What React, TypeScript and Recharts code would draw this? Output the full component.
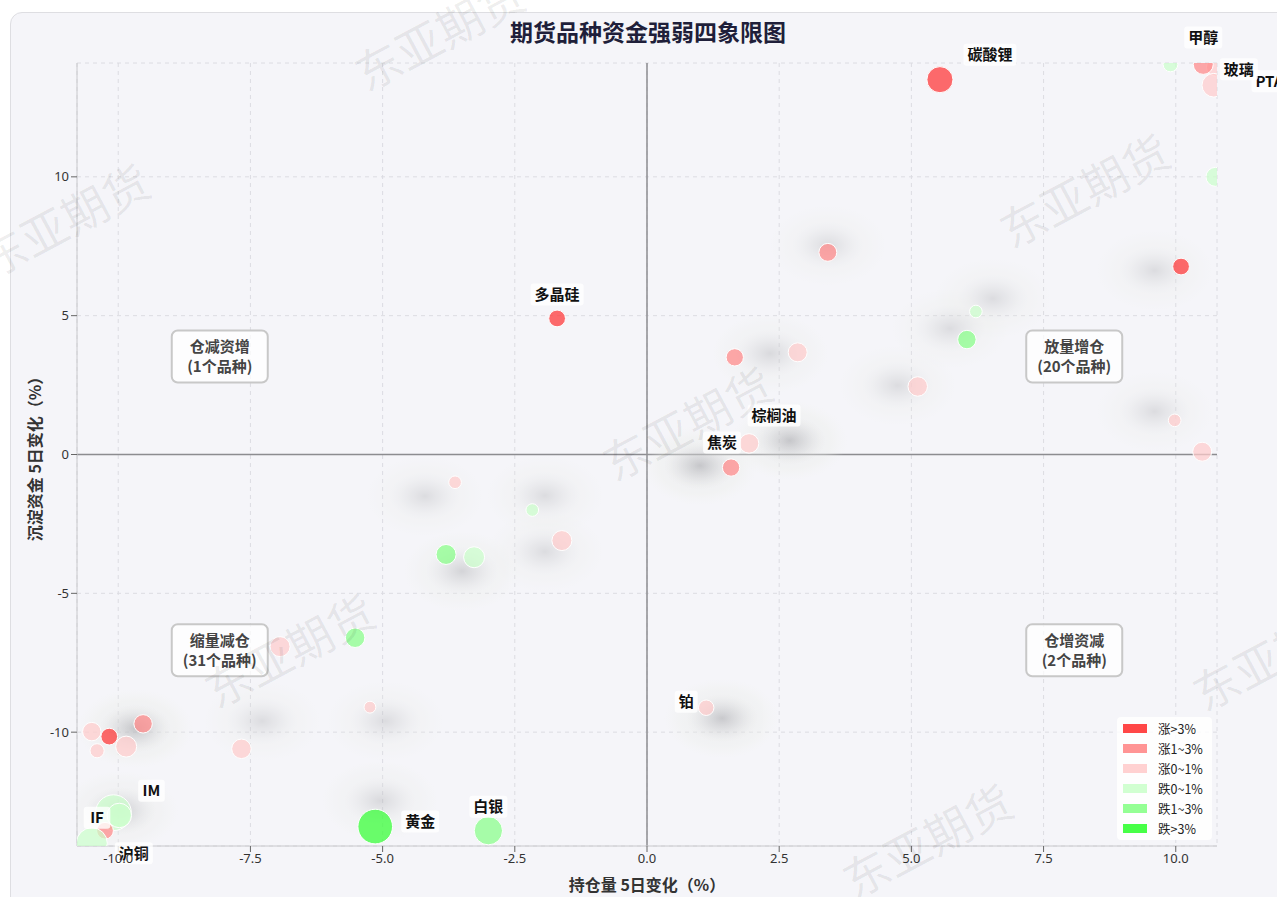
import React from 'react'
import { ScatterChart, Scatter, XAxis, YAxis, ZAxis, CartesianGrid, ReferenceLine, Cell } from 'recharts'

// 品种：持仓量5日变化(%)、沉淀资金5日变化(%)、涨跌幅(%)、成交额权重
const names = [
  '碳酸锂', '', 'PTA', '甲醇', '玻璃', '', '', '', '多晶硅', '', '', '', '', '', '', '',
  '棕榈油', '焦炭', '', '', '', '', '', '', '', '铂', '', '', '', '', '', '', '',
  'IM', '', 'IF', '沪铜', '黄金', '白银',
]
const oiChange = [
  5.54, 9.9, 10.75, 10.52, 10.72, 10.75, 3.42, 10.1, -1.7, 6.22, 6.05, 1.66, 2.85, 5.12, 9.98, 10.5,
  1.93, 1.59, -3.63, -2.17, -1.61, -3.8, -3.27, -6.94, -5.52, 1.12, -9.53, -10.17, -10.5, -9.85, -10.4, -7.67, -5.24,
  -10.09, -9.98, -10.25, -10.5, -5.14, -3.0,
]
const fundChange = [
  13.5, 14.05, 13.95, 14.05, 13.3, 10.0, 7.28, 6.77, 4.9, 5.15, 4.14, 3.5, 3.68, 2.45, 1.23, 0.1,
  0.4, -0.47, -1.0, -2.0, -3.1, -3.6, -3.7, -6.92, -6.6, -9.12, -9.7, -10.16, -9.98, -10.52, -10.67, -10.6, -9.1,
  -12.9, -13.0, -13.55, -14.0, -13.4, -13.55,
]
const priceChange = [
  3.5, -0.5, 0.8, 2.0, 0.6, -0.5, 2.0, 3.3, 3.2, -0.4, -1.2, 1.2, 0.7, 0.2, 0.5, 0.5,
  0.8, 1.5, 0.4, -0.3, 0.6, -1.1, -0.9, 0.6, -1.3, 0.1, 1.8, 3.4, 0.1, 0.5, 0.4, 0.1, 0.05,
  -0.3, -0.7, 2.5, -0.6, -3.2, -1.1,
]
const turnover = [
  170, 55, 80, 100, 140, 90, 80, 70, 70, 40, 85, 75, 90, 95, 40, 90,
  95, 75, 40, 40, 100, 100, 110, 100, 95, 60, 85, 70, 85, 110, 50, 95, 35,
  320, 150, 70, 240, 300, 200,
]

// 历史位置密度（灰色阴影）
const shadowX = [3.42, 9.6, 6.54, 5.73, 2.33, 4.74, 9.6, 1.0, 2.7, -4.2, -1.93, -1.93, -3.5, -9.68, -7.28, -4.95, 1.42, -5.05, -9.96]
const shadowY = [7.53, 6.63, 5.62, 4.54, 3.64, 2.49, 1.55, -0.4, 0.5, -1.5, -1.48, -3.5, -4.2, -9.87, -9.6, -9.6, -9.5, -12.47, -12.83]
const shadowW = [0.45, 0.45, 0.45, 0.45, 0.5, 0.45, 0.45, 0.85, 0.85, 0.45, 0.45, 0.45, 0.6, 0.85, 0.45, 0.45, 0.8, 0.5, 0.7]

const quadrantNames = ['仓减资增', '放量增仓', '缩量减仓', '仓增资减']
const quadrantCounts = ['1个品种', '20个品种', '31个品种', '2个品种']
const quadrantX = [-8.08, 8.08, -8.08, 8.08]
const quadrantY = [3.53, 3.53, -7.05, -7.05]

const legendLabels = ['涨>3%', '涨1~3%', '涨0~1%', '跌0~1%', '跌1~3%', '跌>3%']
const legendColors = ['#ff3333', '#ff8888', '#ffcccc', '#ccffcc', '#88ff88', '#33ff33']

const xTicks = [-10, -7.5, -5, -2.5, 0, 2.5, 5, 7.5, 10]
const yTicks = [-10, -5, 0, 5, 10]
const X_DOMAIN: [number, number] = [-10.78, 10.78]
const Y_DOMAIN: [number, number] = [-14.1, 14.1]

const CJK = '"Noto Sans CJK SC", "Noto Sans", sans-serif'

// label offset (px) from bubble centre
const labelOffsets: Record<string, [number, number]> = {
  '碳酸锂': [50, -25],
  '甲醇': [0, -27],
  'PTA': [54, 14],
  '玻璃': [25, -16],
  '多晶硅': [0, -24],
  '棕榈油': [25, -28],
  '焦炭': [-9, -25],
  '铂': [-20, -6],
  'IM': [38, -22],
  'IF': [-8, -13],
  '沪铜': [42, 10],
  '黄金': [45, -5],
  '白银': [0, -24],
}

const colorOf = (c: number) =>
  c > 3 ? legendColors[0] : c > 1 ? legendColors[1] : c >= 0 ? legendColors[2]
    : c > -1 ? legendColors[3] : c > -3 ? legendColors[4] : legendColors[5]

const points = names.map((name, i) => ({
  name, x: oiChange[i], y: fundChange[i], chg: priceChange[i], z: turnover[i],
}))
const labeled = points.filter(p => labelOffsets[p.name])
const shadows = shadowX.map((x, i) => ({ x, y: shadowY[i], w: shadowW[i] }))
const quadrants = quadrantNames.map((n, i) => ({ n, c: quadrantCounts[i], x: quadrantX[i], y: quadrantY[i] }))

const textWidth = (s: string, fs: number) =>
  [...s].reduce((w, ch) => w + (ch.charCodeAt(0) > 255 ? fs : fs * 0.62), 0)

const ShadowBlob = (props: any) => {
  const { cx, cy, payload } = props
  if (cx == null) return null
  return (
    <g opacity={payload.w}>
      <ellipse cx={cx} cy={cy} rx={58} ry={40} fill="url(#haloGrad)" />
      <ellipse cx={cx} cy={cy} rx={36} ry={24} fill="url(#blobGrad)" />
    </g>
  )
}

const PointLabel = (props: any) => {
  const { cx, cy, payload } = props
  if (cx == null) return null
  const off = labelOffsets[payload.name]
  const w = textWidth(payload.name, 15) + 8
  const x = cx + off[0]
  const y = cy + off[1]
  return (
    <g>
      <rect x={x - w / 2} y={y - 11} width={w} height={22} rx={3} fill="#ffffff" fillOpacity={0.8} />
      <text x={x} y={y} dy="0.36em" textAnchor="middle" fontSize={15} fontWeight={700} fill="#111" fontFamily={CJK}>
        {payload.name}
      </text>
    </g>
  )
}

const QuadrantLabel = (props: any) => {
  const { cx, cy, payload } = props
  if (cx == null) return null
  return (
    <g>
      <rect x={cx - 48} y={cy - 26} width={96} height={52} rx={6} fill="#ffffff" fillOpacity={0.75} stroke="#c8c8c8" strokeWidth={2} />
      <text x={cx} y={cy - 10} dy="0.36em" textAnchor="middle" fontSize={15} fontWeight={700} fill="#444" fontFamily={CJK}>
        {payload.n}
      </text>
      <text x={cx} y={cy + 10} dy="0.36em" textAnchor="middle" fontSize={15} fontWeight={700} fill="#444" fontFamily={CJK}>
        ({payload.c})
      </text>
    </g>
  )
}

const watermarks: [number, number][] = [
  [440, 35], [65, 222], [1085, 192], [688, 425], [290, 652], [928, 842], [1278, 655],
]

export default function App() {
  const tickStyle = { fill: '#333', fontSize: 13, fontFamily: '"Noto Sans", sans-serif' }
  return (
    <div style={{ position: 'absolute', left: 0, top: 0, width: 1277, height: 897, overflow: 'hidden', background: '#fff' }}>
      <svg width={0} height={0} style={{ position: 'absolute' }}>
        <defs>
          <radialGradient id="blobGrad">
            <stop offset="0%" stopColor="#909096" stopOpacity={0.5} />
            <stop offset="45%" stopColor="#a8a8ae" stopOpacity={0.28} />
            <stop offset="100%" stopColor="#d0d0d4" stopOpacity={0} />
          </radialGradient>
          <radialGradient id="haloGrad">
            <stop offset="0%" stopColor="#e6e8e6" stopOpacity={0.6} />
            <stop offset="70%" stopColor="#eceee9" stopOpacity={0.4} />
            <stop offset="100%" stopColor="#f0f2ee" stopOpacity={0} />
          </radialGradient>
        </defs>
      </svg>
      <div style={{
        position: 'absolute', left: 10, top: 12, width: 1300, height: 920,
        border: '1.5px solid #dedee2', borderRadius: 12, background: '#f5f5f9',
      }} />
      <div style={{ position: 'absolute', left: 0, top: 0 }}>
        <ScatterChart width={1277} height={897} margin={{ top: 63, right: 60, bottom: 21, left: 17 }}>
          <CartesianGrid stroke="#dcdce2" strokeDasharray="4 4" />
          <XAxis type="number" dataKey="x" domain={X_DOMAIN} ticks={xTicks} allowDataOverflow
            tickFormatter={(v: number) => v.toFixed(1)} height={30}
            axisLine={{ stroke: '#c8c8cc' }} tickLine={{ stroke: '#666' }} tick={tickStyle} />
          <YAxis type="number" dataKey="y" domain={Y_DOMAIN} ticks={yTicks} allowDataOverflow width={60}
            axisLine={{ stroke: '#c8c8cc' }} tickLine={{ stroke: '#666' }} tick={tickStyle} />
          <XAxis xAxisId="lab" type="number" dataKey="x" domain={X_DOMAIN} hide />
          <YAxis yAxisId="lab" type="number" dataKey="y" domain={Y_DOMAIN} hide />
          <ZAxis type="number" dataKey="z" domain={[0, 400]} range={[0, 1257]} />
          <ReferenceLine x={0} stroke="#8c8c90" strokeWidth={1.5} />
          <ReferenceLine y={0} stroke="#8c8c90" strokeWidth={1.5} />
          <Scatter data={shadows} shape={ShadowBlob} isAnimationActive={false} />
          <Scatter data={points} shape="circle" isAnimationActive={false} stroke="#ffffff" strokeWidth={1} fillOpacity={0.72}>
            {points.map((p, i) => (
              <Cell key={`c-${i}`} fill={colorOf(p.chg)} />
            ))}
          </Scatter>
          <Scatter data={quadrants} xAxisId="lab" yAxisId="lab" shape={QuadrantLabel} isAnimationActive={false} />
          <Scatter data={labeled} xAxisId="lab" yAxisId="lab" shape={PointLabel} isAnimationActive={false} />
        </ScatterChart>
      </div>
      <div style={{
        position: 'absolute', left: 1117, top: 717, width: 95, height: 123,
        background: 'rgba(255,255,255,0.85)', borderRadius: 4, paddingTop: 1, boxSizing: 'border-box',
      }}>
        {legendLabels.map((l, i) => (
          <div key={l} style={{ display: 'flex', alignItems: 'center', height: 20, paddingLeft: 6 }}>
            <div style={{ width: 24, height: 9, background: legendColors[i], opacity: 0.9 }} />
            <span style={{ marginLeft: 11, fontSize: 12.5, color: '#222', fontFamily: CJK }}>{l}</span>
          </div>
        ))}
      </div>
      <svg width={1277} height={897} style={{ position: 'absolute', left: 0, top: 0, pointerEvents: 'none' }}>
        <text x={648} y={33} dy="0.36em" textAnchor="middle" fontSize={23} fontWeight={700} fill="#1f1f3a" fontFamily={CJK}>
          期货品种资金强弱四象限图
        </text>
        <text x={647} y={885} dy="0.36em" textAnchor="middle" fontSize={16} fontWeight={700} fill="#333" fontFamily={CJK}>
          持仓量 5日变化（%）
        </text>
        <text x={35} y={455} dy="0.36em" textAnchor="middle" fontSize={16} fontWeight={700} fill="#333" fontFamily={CJK}
          transform="rotate(-90 35 455)">
          沉淀资金 5日变化（%）
        </text>
        {watermarks.map(([x, y], i) => (
          <text key={i} x={x} y={y} dy="0.36em" textAnchor="middle" fontSize={46} fill="#000" fillOpacity={0.07}
            fontFamily={CJK} transform={`rotate(-28 ${x} ${y})`}>
            东亚期货
          </text>
        ))}
      </svg>
    </div>
  )
}
